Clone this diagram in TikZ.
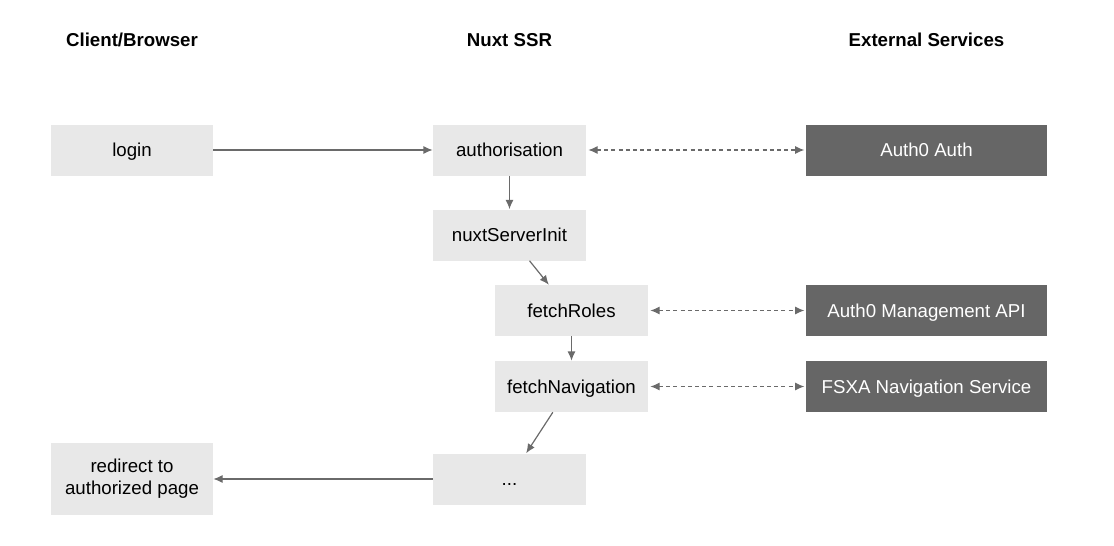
\documentclass[tikz,border=0pt]{standalone}
\usepackage{fontspec}
\setmainfont{Liberation Sans}
\usetikzlibrary{positioning}
\usetikzlibrary{arrows.meta}
\definecolor{box-light}{HTML}{E8E8E8}
\definecolor{box-dark}{HTML}{666666}
\definecolor{link-gray}{HTML}{6A6A6A}

\begin{document}
\begin{tikzpicture}[x=0.75pt, y=-0.75pt, font=\fontsize{14}{16.5}\selectfont,
  plain box/.style={fill=box-light, minimum width=114.75pt, minimum height=38.25pt, inner sep=0pt, align=center},
  step box/.style={plain box, text height=10pt, text depth=0pt},
  service box/.style={fill=box-dark, text=white, minimum width=180.75pt, minimum height=38.25pt, inner sep=0pt, text height=10pt, text depth=0pt},
  heading/.style={font=\fontsize{14}{16.5}\selectfont\bfseries, inner sep=0pt},
  tip/.tip={Latex[length=7pt, width=6pt]},
  flow/.style={draw=link-gray, line width=0.9pt, -tip},
  call/.style={draw=link-gray, line width=0.9pt, tip-tip, dash pattern=on 3pt off 2.4pt}]
\useasboundingbox (0,0) rectangle (1114,546);
% column headings
\node[heading] (head-client) at (132, 40) {Client/Browser};
\node[heading] (head-nuxt) at (509.5, 40) {Nuxt SSR};
\node[heading] (head-ext) at (926.5, 40) {External Services};
% client side
\node[step box, minimum width=121.5pt] (login) at (132, 150) {login};
\node[plain box, minimum width=121.5pt, minimum height=54pt] (redirect) at (132, 479) {redirect to\\authorized page};
% nuxt ssr steps
\node[step box] (auth) at (509.5, 150) {authorisation};
\node[step box] (init) at (509.5, 235) {nuxtServerInit};
\node[step box] (roles) at (571.5, 310.5) {fetchRoles};
\node[step box] (nav) at (571.5, 386.5) {fetchNavigation};
\node[step box] (rest) at (509.5, 479) {...};
% external services
\node[service box] (auth0) at (926.5, 150) {Auth0 Auth};
\node[service box] (mgmt) at (926.5, 310.5) {Auth0 Management API};
\node[service box] (fsxa) at (926.5, 386.5) {FSXA Navigation Service};
% flow
\draw[flow] (login) -- (auth);
\draw[flow] (auth) -- (init);
\draw[flow] ([xshift=15pt]init.south) -- ([xshift=-17pt]roles.north);
\draw[flow] (roles) -- (nav);
\draw[flow] ([xshift=-14pt]nav.south) -- ([xshift=12.5pt]rest.north);
\draw[flow] (rest) -- (redirect);
\foreach \from/\to in {auth/auth0, roles/mgmt, nav/fsxa} {
  \draw[call] ([xshift=1.5pt]\from.east) -- ([xshift=-1pt]\to.west);
}
\end{tikzpicture}
\end{document}
